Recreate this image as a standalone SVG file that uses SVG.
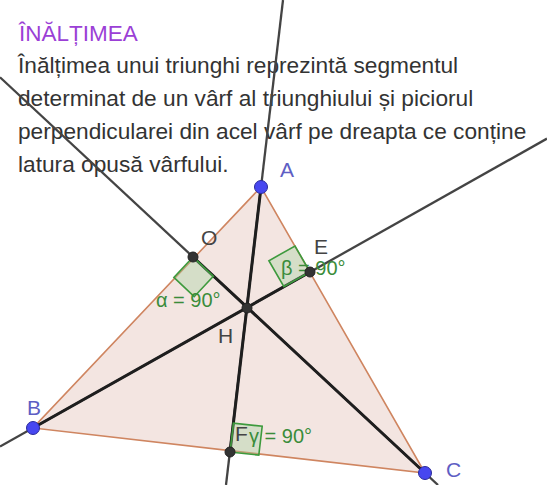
<svg xmlns="http://www.w3.org/2000/svg" width="547" height="485" viewBox="0 0 547 485">
<style>
  .body{font-family:"Liberation Sans",Arial,sans-serif;font-size:22.7px;fill:#333}
  .title{font-family:"Liberation Sans",Arial,sans-serif;font-size:22.5px;fill:#9b3fd6}
  .vlab{font-family:"Liberation Sans",Arial,sans-serif;font-size:21px;fill:#5e5ec4}
  .plab{font-family:"Liberation Sans",Arial,sans-serif;font-size:21px;fill:#444}
  .ang{font-family:"Liberation Sans",Arial,sans-serif;font-size:20px;fill:#3a8c3a}
  .line{stroke:#444;stroke-width:2.3;fill:none}
  .seg{stroke:#1e1e1e;stroke-width:3;fill:none}
  .sq{fill:#9fd09a;fill-opacity:0.35;stroke:#3d9a3d;stroke-width:1.6}
  .vpt{fill:#4747f0;stroke:#2b2b9a;stroke-width:1}
  .ppt{fill:#333;stroke:#222;stroke-width:1}
</style>
<rect width="547" height="485" fill="#fff"/>
<g id="text">
  <text class="title" x="19" y="41">ÎNĂLȚIMEA</text>
  <text class="body" x="18" y="73">Înălțimea unui triunghi reprezintă segmentul</text>
  <text class="body" x="18" y="106">determinat de un vârf al triunghiului și piciorul</text>
  <text class="body" x="18" y="139">perpendicularei din acel vârf pe dreapta ce conține</text>
  <text class="body" x="18" y="172">latura opusă vârfului.</text>
</g>
<g id="triangle">
  <polygon points="261,187 33,428 425,473" fill="#f1e1dc" fill-opacity="0.85" stroke="#cf8560" stroke-width="1.6"/>
</g>
<g id="connectors">
  <line class="line" x1="283" y1="0" x2="226" y2="485"/>
  <line class="line" x1="0" y1="446.6" x2="547" y2="138.6"/>
  <line class="line" x1="0" y1="77.3" x2="438" y2="485"/>
  <line class="seg" x1="261" y1="187" x2="230" y2="452"/>
  <line class="seg" x1="33" y1="428" x2="310" y2="272"/>
  <line class="seg" x1="425" y1="473" x2="193" y2="257"/>
</g>
<g id="angle-alpha">
  <polygon class="sq" points="193,257 173.9,277.4 194.2,296.7 213.3,276.3"/>
  <text class="ang" x="156" y="307">α = 90°</text>
</g>
<g id="angle-beta">
  <polygon class="sq" points="310,272 295,246 268.9,260.7 283.9,286.7"/>
  <text class="ang" x="281" y="275">β = 90°</text>
</g>
<g id="angle-gamma">
  <polygon class="sq" points="230,452 233.4,423.2 262.2,426.3 258.8,455.1"/>
  <text class="ang" x="249" y="443">γ = 90°</text>
</g>
<g id="A"><circle class="vpt" cx="261" cy="187" r="6.5"/><text class="vlab" x="280" y="177">A</text></g>
<g id="B"><circle class="vpt" cx="33" cy="428" r="6.5"/><text class="vlab" x="27" y="415">B</text></g>
<g id="C"><circle class="vpt" cx="425" cy="473" r="6.5"/><text class="vlab" x="446" y="477">C</text></g>
<g id="O"><circle class="ppt" cx="193" cy="257" r="5"/><text class="plab" x="201" y="245">O</text></g>
<g id="E"><circle class="ppt" cx="310" cy="272" r="5"/><text class="plab" x="314" y="254">E</text></g>
<g id="H"><circle class="ppt" cx="247" cy="308" r="5"/><text class="plab" x="218" y="343">H</text></g>
<g id="F"><circle class="ppt" cx="230" cy="452" r="5"/><text class="plab" x="235" y="441">F</text></g>
</svg>
